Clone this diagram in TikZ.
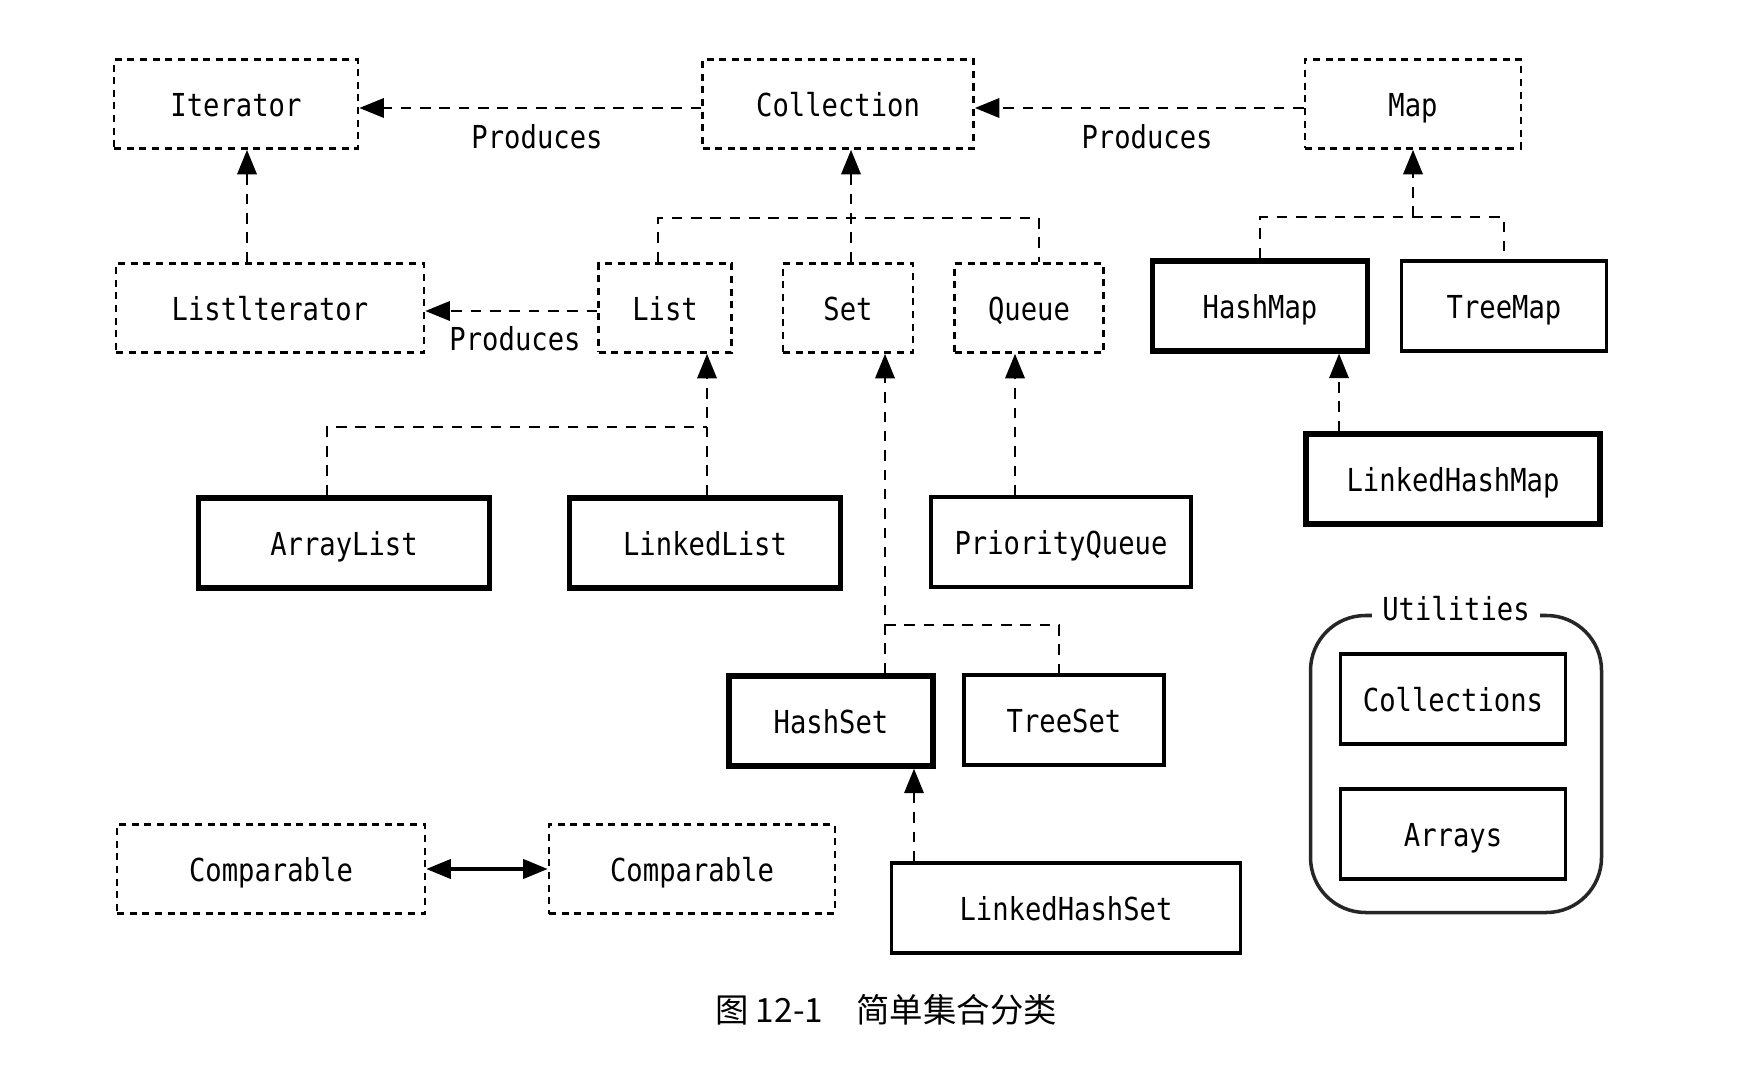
\documentclass[tikz,border=0pt]{standalone}
\usepackage{fontspec}
\newfontfamily\codefont[FakeStretch=0.86]{DejaVu Sans Mono}
\newfontfamily\cjkfont{Noto Sans CJK SC}
\usetikzlibrary{arrows.meta}

\begin{document}
\begin{tikzpicture}[
    >={Triangle[length=7pt,width=5.5pt]},
    lbl/.style={font=\codefont\fontsize{9}{10}\selectfont},
    box/.style={lbl, draw, text height=1.9ex, text depth=0.2ex, inner sep=0pt},
    iface/.style={box, dash pattern=on 2pt off 1.6pt, line width=0.75pt, minimum height=0.89cm},
    impl/.style={box, line width=1.5pt, minimum height=0.9cm},
    implthin/.style={box, line width=0.9pt, minimum height=0.9cm},
    utilbox/.style={draw=black!85, line width=1pt, rounded corners=0.55cm},
    dep/.style={dash pattern=on 3pt off 2.5pt, line width=0.75pt},
    deparrow/.style={dep, ->}
]
    \useasboundingbox (0,0) rectangle (17.44,10.82);

    \node[iface, minimum width=2.44cm] (Iterator) at (2.36,9.78) {Iterator};
    \node[iface, minimum width=2.71cm] (Collection) at (8.38,9.78) {Collection};
    \node[iface, minimum width=2.16cm] (Map) at (14.13,9.78) {Map};
    \node[lbl] (ProducesA) at (5.37,9.45) {Produces};
    \node[lbl] (ProducesB) at (11.47,9.45) {Produces};

    \node[iface, minimum width=3.08cm] (ListIterator) at (2.70,7.74) {Listlterator};
    \node[iface, minimum width=1.33cm] (List) at (6.65,7.74) {List};
    \node[iface, minimum width=1.30cm] (Set) at (8.48,7.74) {Set};
    \node[iface, minimum width=1.49cm] (Queue) at (10.29,7.74) {Queue};
    \node[impl, minimum width=2.15cm] (HashMap) at (12.60,7.76) {HashMap};
    \node[implthin, minimum width=2.05cm] (TreeMap) at (15.04,7.76) {TreeMap};
    \node[lbl] (ProducesC) at (5.15,7.43) {Produces};

    \node[impl, minimum width=2.91cm] (ArrayList) at (3.44,5.39) {ArrayList};
    \node[impl, minimum width=2.71cm] (LinkedList) at (7.05,5.39) {LinkedList};
    \node[implthin, minimum width=2.60cm] (PriorityQueue) at (10.61,5.40) {PriorityQueue};
    \node[impl, minimum width=2.94cm] (LinkedHashMap) at (14.53,6.03) {LinkedHashMap};

    \node[impl, minimum width=2.04cm] (HashSet) at (8.31,3.61) {HashSet};
    \node[implthin, minimum width=2.00cm] (TreeSet) at (10.64,3.62) {TreeSet};
    \node[implthin, minimum width=3.49cm] (LinkedHashSet) at (10.66,1.74) {LinkedHashSet};
    \node[iface, minimum width=3.08cm] (ComparableA) at (2.71,2.13) {Comparable};
    \node[iface, minimum width=2.86cm] (ComparableB) at (6.92,2.13) {Comparable};

    \node[utilbox, minimum width=2.91cm, minimum height=2.97cm] (Utilities) at (14.56,3.18) {};
    \node[lbl, fill=white, inner sep=3pt] (UtilitiesLabel) at ([yshift=0.5mm]Utilities.north) {Utilities};
    \node[implthin, minimum width=2.25cm] (Collections) at (14.53,3.83) {Collections};
    \node[implthin, minimum width=2.25cm] (Arrays) at (14.53,2.48) {Arrays};

    \node[font=\cjkfont\fontsize{9.5}{11}\selectfont] (Caption) at (8.86,0.72) {图 12-1\quad 简单集合分类};

    \draw[deparrow] ([yshift=-0.4mm]Collection.west) -- ([yshift=-0.4mm]Iterator.east);
    \draw[deparrow] ([yshift=-0.4mm]Map.west) -- ([yshift=-0.4mm]Collection.east);
    \draw[deparrow] ([yshift=-0.3mm]List.west) -- ([yshift=-0.3mm]ListIterator.east);
    \coordinate (itx) at ([xshift=1.1mm]Iterator.south);
    \draw[deparrow] (itx |- ListIterator.north) -- (itx);

    \coordinate (colbar) at (8.51,8.64);
    \coordinate (listup) at ([xshift=-0.7mm]List.north);
    \coordinate (queueup) at ([xshift=1mm]Queue.north);
    \draw[dep] (listup) |- (queueup |- colbar) -- (queueup);
    \draw[deparrow] (Set.north -| colbar) -- (Collection.south -| colbar);

    \coordinate (mapbar) at (14.13,8.65);
    \draw[dep] (HashMap.north) |- (TreeMap.north |- mapbar) -- (TreeMap.north);
    \draw[deparrow] (mapbar) -- (Map.south);

    \coordinate (listbar) at (7.07,6.55);
    \coordinate (alup) at ([xshift=-1.7mm]ArrayList.north);
    \draw[dep] (alup) |- (listbar);
    \draw[deparrow] (LinkedList.north -| listbar) -- (List.south -| listbar);

    \coordinate (pqup) at ([xshift=-4.6mm]PriorityQueue.north);
    \draw[deparrow] (pqup) -- (Queue.south -| pqup);
    \coordinate (lhmup) at ([xshift=-11.4mm]LinkedHashMap.north);
    \draw[deparrow] (lhmup) -- (HashMap.south -| lhmup);

    \coordinate (setbar) at (8.85,4.57);
    \draw[deparrow] (HashSet.north -| setbar) -- (Set.south -| setbar);
    \draw[dep] (setbar) -| ([xshift=-0.5mm]TreeSet.north);
    \coordinate (lhsup) at ([xshift=-15.2mm]LinkedHashSet.north);
    \draw[deparrow] (lhsup) -- (HashSet.south -| lhsup);

    \draw[<->, line width=0.9pt] (ComparableA.east) -- (ComparableB.west);
\end{tikzpicture}
\end{document}
